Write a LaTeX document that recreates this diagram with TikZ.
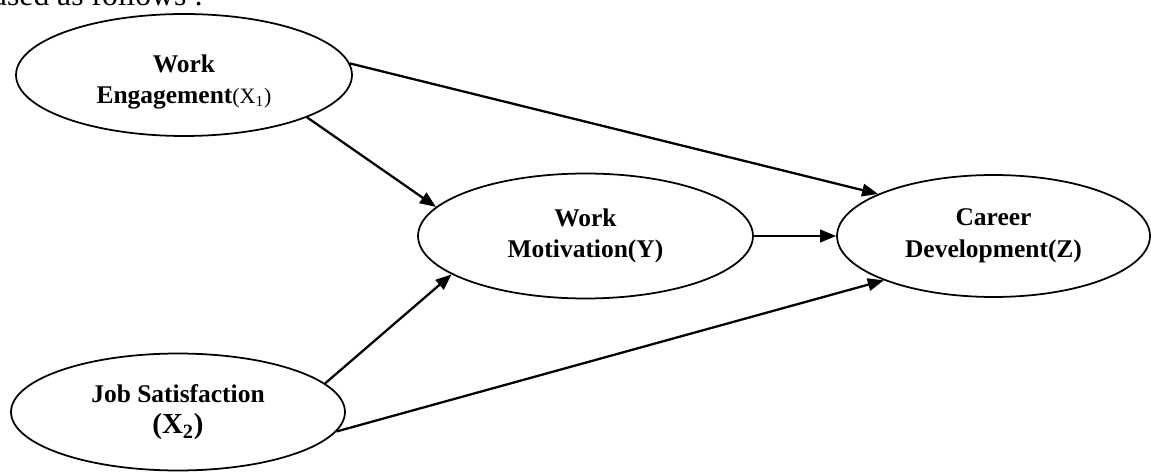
\documentclass[tikz,border=0pt]{standalone}
\usepackage{fontspec}
\setmainfont{Liberation Serif}
\usetikzlibrary{shapes.geometric,arrows.meta}
\tikzset{
  latent/.style={draw, line width=1pt, ellipse, inner sep=0pt, align=center,
    font=\bfseries\fontsize{14.5}{18}\selectfont},
  latenttext/.style={inner sep=0pt, align=center, font=\bfseries\fontsize{14.5}{18}\selectfont},
  path arrow/.style={line width=1.3pt, -{Triangle[length=0.32cm,width=0.25cm]}}
}
\begin{document}
\begin{tikzpicture}[x=0.02cm,y=-0.02cm]
\useasboundingbox (0,0) rectangle (1151,472);
\clip (0,0) rectangle (1151,472);
\node[anchor=base west, inner sep=0pt, font=\fontsize{18}{22}\selectfont] (intro) at (-9,6) {used as follows :};
\node[latent, minimum width=6.72cm, minimum height=2.44cm] (e1) at (184,75) {};
\node[latenttext] (e1text) at (184,82)
  {Work\\Engagement{\normalfont\fontsize{12.5}{18}\selectfont(X\textsubscript{1})}};
\node[latent, minimum width=6.68cm, minimum height=2.34cm] (js) at (178,412)
  {Job Satisfaction\\{\fontsize{16.5}{19}\selectfont(X\textsubscript{2})}};
\node[latent, minimum width=6.7cm, minimum height=2.5cm] (y) at (585.5,236)
  {Work\\Motivation(Y)};
\node[latent, minimum width=6.26cm, minimum height=2.44cm] (z) at (993.5,236)
  {Career\\Development(Z)};
\draw[path arrow] (e1.4) -- (z.160);
\draw[path arrow] (e1.-19) -- (y.169);
\draw[path arrow] (y.east) -- (z.west);
\draw[path arrow] (js.11) -- (y.196);
\draw[path arrow] (js.-7.5) -- (z.202);
\end{tikzpicture}
\end{document}
